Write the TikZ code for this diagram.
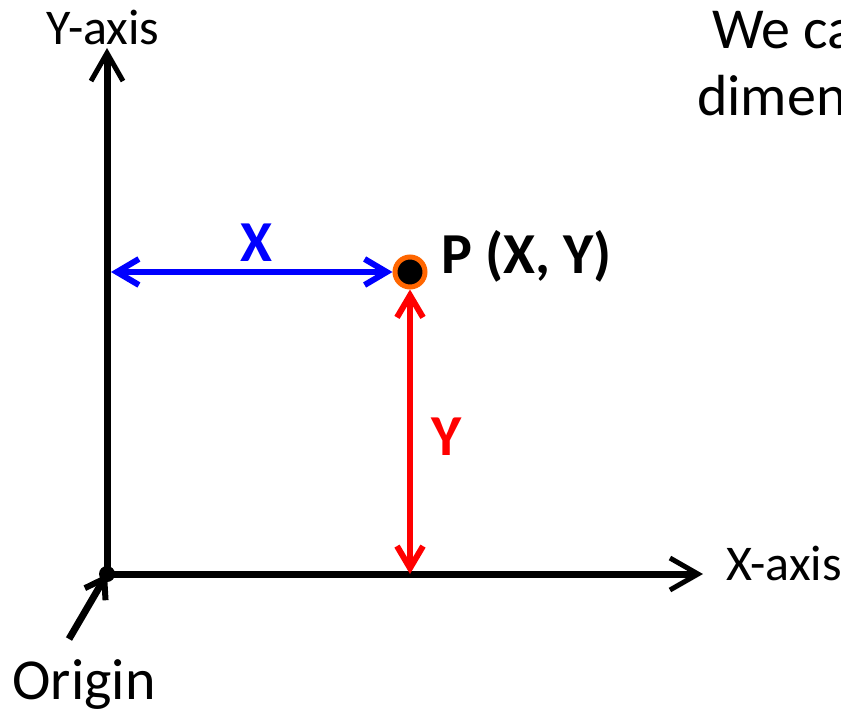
\documentclass[tikz,border=0pt]{standalone}
\usepackage{fontspec}
\setmainfont{Carlito}
\usetikzlibrary{arrows.meta}
\definecolor{ptorange}{RGB}{255,102,0}
\definecolor{xblue}{RGB}{0,0,255}
\definecolor{yred}{RGB}{255,0,0}
\tikzset{
  axis/.style={line width=7pt, -{Straight Barb[length=28pt,width=32pt,line width=5pt]}},
  dim/.style={line width=6.5pt, {Straight Barb[length=22pt,width=26pt,line width=6pt]}-{Straight Barb[length=22pt,width=26pt,line width=6pt]}},
  lbl/.style={font=\fontsize{50}{54}\selectfont, inner sep=0pt},
  big/.style={font=\fontsize{58}{62}\selectfont, inner sep=0pt},
  bigb/.style={font=\fontsize{58}{62}\selectfont\bfseries, inner sep=0pt},
}
\begin{document}
\begin{tikzpicture}[x=1pt,y=-1pt]
\useasboundingbox (0,0) rectangle (841,715);
\clip (0,0) rectangle (841,715);
\coordinate (O) at (107,574);
\coordinate (Ytip) at (107,48);
\coordinate (Xtip) at (703,574);
\draw[axis] (O) -- (Ytip);
\draw[axis] (O) -- (Xtip);
\node[lbl] (ylab) at (103,27) {Y-axis};
\node[lbl, anchor=west] (xlab) at (726,563) {X-axis};
% point
\node[circle, fill=black, draw=ptorange, line width=5pt, minimum size=30pt, inner sep=0pt] (P) at (410,272) {};
\node[bigb, anchor=west] (plab) at (441,256) {P (X, Y)};
% dimension arrows
\coordinate (Yleft) at (111,272);
\coordinate (Pbase) at (410,574);
\draw[dim, xblue] (Yleft) -- (P.west);
\draw[dim, yred] (Pbase) -- (P.south);
\node[bigb, text=xblue] (xl) at (256,243) {X};
\node[bigb, text=yred] (yl) at (447,437) {Y};
% origin
\fill (O) circle (8pt);
\coordinate (otail) at (69,639);
\draw[line width=7pt, -{Straight Barb[length=18pt,width=24pt,line width=6pt]}] (otail) -- (O);
\node[big] (olab) at (84,685) {Origin};
% top-right text
\node[big, anchor=west] (t1) at (712,30) {We can};
\node[big, anchor=west] (t2) at (697,96) {dimension};
\end{tikzpicture}
\end{document}
